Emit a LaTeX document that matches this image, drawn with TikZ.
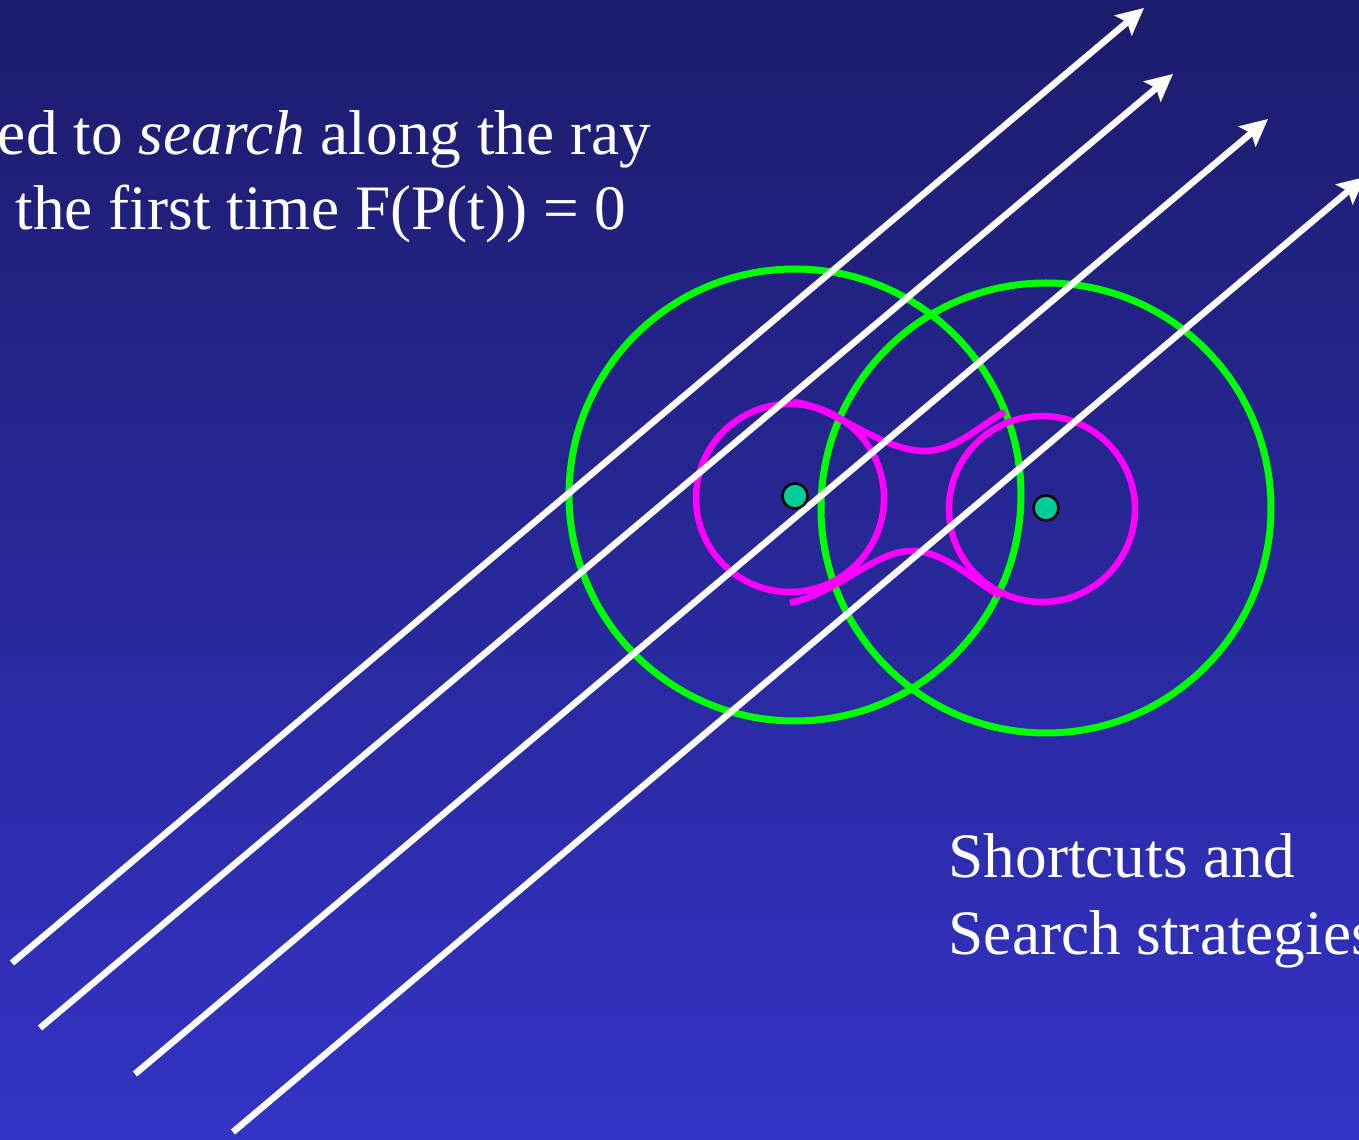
\documentclass[tikz,border=0pt]{standalone}
\usepackage{fontspec}
\setmainfont{Liberation Serif}
\usetikzlibrary{arrows.meta}
\definecolor{bgtop}{RGB}{28,28,108}
\definecolor{bgbot}{RGB}{51,51,198}
\definecolor{ringgreen}{RGB}{0,255,0}
\definecolor{blobpink}{RGB}{255,0,255}
\definecolor{dotteal}{RGB}{0,204,153}
\begin{document}
\begin{tikzpicture}[x=0.01cm,y=-0.01cm,
  ray/.style={draw=white,line width=0.065cm,-{Stealth[length=0.27cm,width=0.26cm,inset=0.05cm]}},
  ring/.style={draw=ringgreen,line width=0.07cm},
  blob/.style={draw=blobpink,line width=0.065cm},
  centre/.style={circle,fill=dotteal,draw=black,line width=0.7pt,minimum size=0.25cm,inner sep=0pt},
  label/.style={text=white,inner sep=0pt,font=\fontsize{18}{21}\selectfont}]
\useasboundingbox (0,0) rectangle (1359,1140);
\shade[top color=bgtop,bottom color=bgbot] (0,0) rectangle (1359,1140);
\clip (0,0) rectangle (1359,1140);
% green bounding circles
\draw[ring] (795,495) circle[radius=226];
\draw[ring] (1046,508) circle[radius=225];
% magenta blob
\draw[blob] (790,498) circle[radius=94];
\draw[blob] (1042,509) circle[radius=93];
\draw[blob] (793,402) .. controls (830,405) and (880,450) .. (923,451)
                     .. controls (955,452) and (980,425) .. (1005,412);
\draw[blob] (790,603) .. controls (840,592) and (875,550) .. (913,551)
                     .. controls (945,552) and (970,578) .. (1000,596);
% rays
\coordinate (s1) at (12,963);   \coordinate (e1) at (1144,8);
\coordinate (s2) at (40,1028);  \coordinate (e2) at (1173,74);
\coordinate (s3) at (135,1074); \coordinate (e3) at (1268,119);
\coordinate (s4) at (233,1132); \coordinate (e4) at (1365,177);
\draw[ray] (s1) -- (e1);
\draw[ray] (s2) -- (e2);
\draw[ray] (s3) -- (e3);
\draw[ray] (s4) -- (e4);
% centres
\node[centre] (c1) at (795,496) {};
\node[centre] (c2) at (1046,508) {};
% texts
\node[label,anchor=base east] (t1) at (652,155) {ed to \textit{search} along the ray};
\node[label,anchor=base east] (t2) at (627,230) {the first time F(P(t)) = 0};
\node[label,anchor=base west] (t3) at (948,878) {Shortcuts and};
\node[label,anchor=base west] (t4) at (948,955) {Search strategies};
\end{tikzpicture}
\end{document}
